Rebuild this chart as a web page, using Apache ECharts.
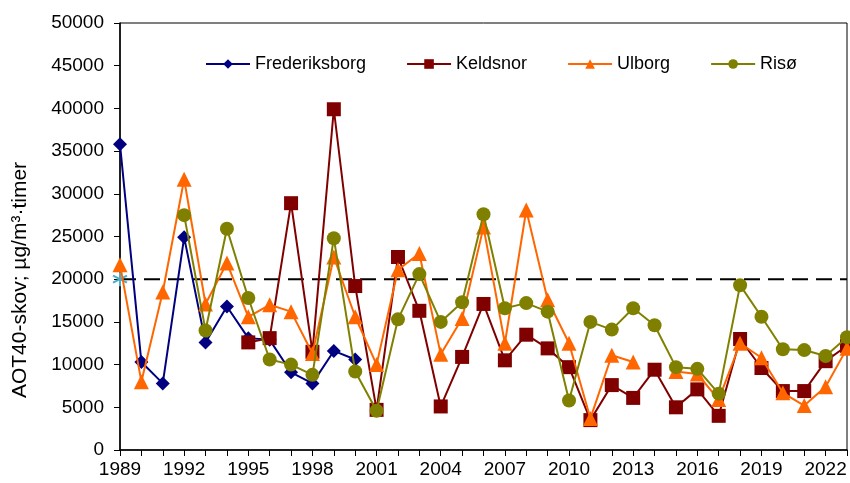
<!DOCTYPE html>
<html>
<head>
<meta charset="utf-8">
<script src="https://cdn.jsdelivr.net/npm/echarts@6/dist/echarts.min.js"></script>
<style>
  html, body { margin: 0; padding: 0; background: #fff; }
  #chart { width: 850px; height: 483px; }
</style>
</head>
<body>
<div id="chart"></div>
<script>
var years = [];
for (var y = 1989; y <= 2023; y++) years.push(y);

// values start at the first year of each series
var frederiksborgStart = 1989;
var frederiksborg = [35800, 10300, 7800, 24900, 12600, 16800, 13100, 12900, 9100, 7800, 11600, 10600];

var keldsnorStart = 1995;
var keldsnor = [12600, 13100, 28900, 11500, 39900, 19200, 4700, 22600, 16300, 5100,
    10900, 17100, 10500, 13500, 11900, 9700, 3500, 7600, 6100, 9400,
    5000, 7100, 4000, 13000, 9600, 6900, 6900, 10400, 12200];

var ulborgStart = 1989;
var ulborg = [21700, 8000, 18500, 31700, 17100, 21900, 15600, 17000, 16200, 11300,
    22600, 15600, 10000, 21100, 23000, 11200, 15400, 26100, 12500, 28100,
    17600, 12500, 3700, 11100, 10300, null, 9200, 8900, 5900, 12500,
    10800, 6700, 5200, 7400, 11900];

var risoStart = 1992;
var riso = [27500, 14000, 25900, 17800, 10600, 10000, 8800, 24800, 9200, 4600,
    15300, 20600, 15000, 17300, 27600, 16600, 17200, 16200, 5800, 15000,
    14100, 16600, 14600, 9700, 9500, 6600, 19300, 15600, 11800, 11700,
    11000, 13200];

var targetValue = 20000;
var yTicks = [0, 50000, 5000];

function pairs(start, vals) {
    return vals.map(function (v, i) { return [start + i, v]; });
}

var chart = echarts.init(document.getElementById('chart'));
var font = 'Liberation Sans, Arial, sans-serif';

var option = {
    animation: false,
    textStyle: { fontFamily: font },
    grid: {
        left: 120, right: 2, top: 23, bottom: 33,
        show: true, borderColor: '#000', borderWidth: 1
    },
    legend: {
        left: 200, top: 50,
        itemWidth: 44, itemHeight: 12, itemGap: 40,
        textStyle: { fontSize: 18, color: '#000', fontFamily: font },
        data: ['Frederiksborg', 'Keldsnor', 'Ulborg', 'Risø']
    },
    graphic: [{
        type: 'text',
        x: 20, y: 280, rotation: Math.PI / 2,
        style: {
            text: 'AOT40-skov; µg/m³·timer',
            font: '21px Liberation Sans, Arial, sans-serif',
            fill: '#000', align: 'center', verticalAlign: 'middle'
        }
    }],
    xAxis: {
        type: 'value',
        min: years[0], max: years[years.length - 1], interval: 1,
        splitLine: { show: false },
        axisLine: { lineStyle: { color: '#000', width: 1.5 } },
        axisTick: { lineStyle: { color: '#000' }, length: 6 },
        axisLabel: {
            color: '#000', fontSize: 19, margin: 10, fontFamily: font,
            formatter: function (v) { return (v - 1989) % 3 === 0 ? String(v) : ''; }
        }
    },
    yAxis: {
        type: 'value',
        min: yTicks[0], max: yTicks[1], interval: yTicks[2],
        splitLine: { show: false },
        axisLine: { show: true, lineStyle: { color: '#000', width: 1.5 } },
        axisTick: { show: true, lineStyle: { color: '#000' }, length: 6 },
        axisLabel: {
            color: '#000', fontSize: 19, margin: 16, fontFamily: font,
            formatter: function (v) { return String(v); }
        }
    },
    series: [
        {
            name: 'Grænse',
            type: 'line',
            data: [
                { value: [years[0], targetValue], symbol: 'path://M0,-10L0,10M-8.66,-5L8.66,5M-8.66,5L8.66,-5', symbolSize: 14 },
                { value: [years[years.length - 1], targetValue], symbol: 'none' }
            ],
            lineStyle: { color: '#000', width: 2, type: [16, 8] },
            itemStyle: { color: 'none', borderColor: '#4bacc6', borderWidth: 2 },
            z: 1
        },
        {
            name: 'Frederiksborg',
            type: 'line',
            data: pairs(frederiksborgStart, frederiksborg),
            symbol: 'diamond', symbolSize: 14,
            lineStyle: { color: '#000080', width: 2 },
            itemStyle: { color: '#000080' },
            z: 2
        },
        {
            name: 'Keldsnor',
            type: 'line',
            data: pairs(keldsnorStart, keldsnor),
            symbol: 'rect', symbolSize: 14,
            lineStyle: { color: '#800000', width: 2 },
            itemStyle: { color: '#800000' },
            z: 3
        },
        {
            name: 'Ulborg',
            type: 'line',
            data: pairs(ulborgStart, ulborg),
            symbol: 'triangle', symbolSize: 15,
            lineStyle: { color: '#ff6600', width: 2 },
            itemStyle: { color: '#ff6600' },
            z: 4
        },
        {
            name: 'Risø',
            type: 'line',
            data: pairs(risoStart, riso),
            symbol: 'circle', symbolSize: 14,
            lineStyle: { color: '#808000', width: 2 },
            itemStyle: { color: '#808000' },
            z: 5
        }
    ]
};

chart.setOption(option);
</script>
</body>
</html>
